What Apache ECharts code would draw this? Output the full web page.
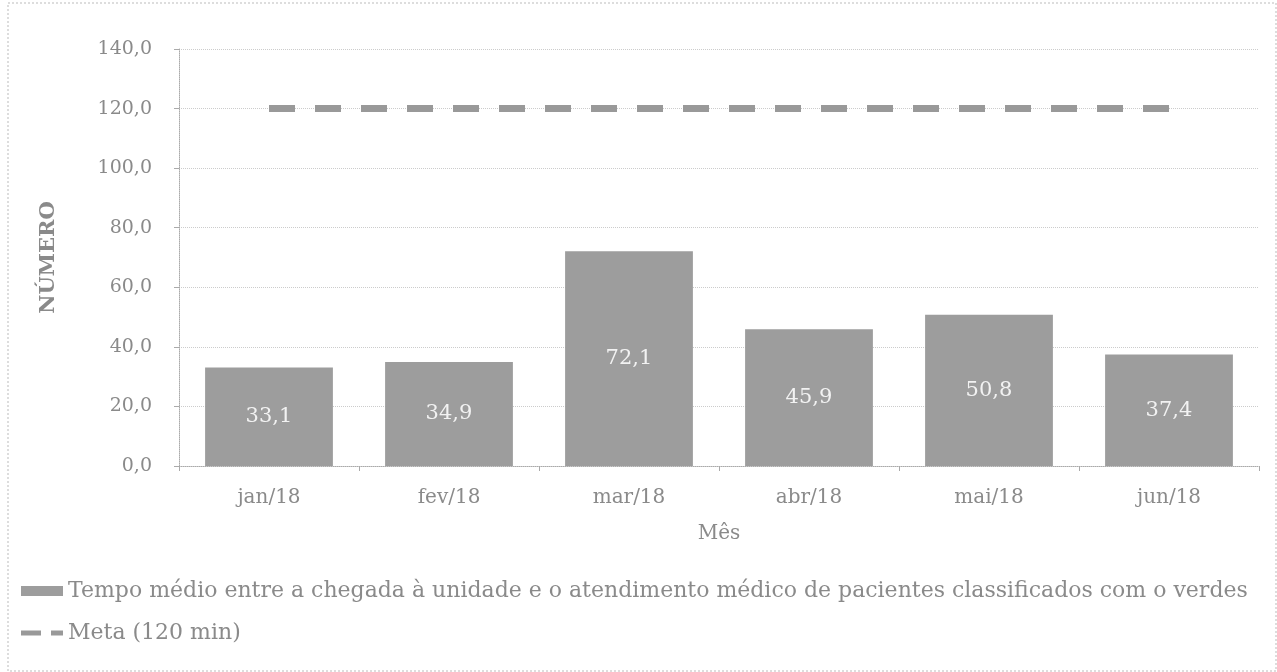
<!DOCTYPE html>
<html><head><meta charset="utf-8">
<script src="https://cdn.jsdelivr.net/npm/echarts@6/dist/echarts.min.js"></script>
<style>html,body{margin:0;padding:0;background:#fff}#c{width:1277px;height:672px}</style>
</head><body><div id="c"></div>
<script>
const categories = ['jan/18','fev/18','mar/18','abr/18','mai/18','jun/18'];
const tempoMedio = [33.1, 34.9, 72.1, 45.9, 50.8, 37.4];
const meta = [120, 120, 120, 120, 120, 120];
const barName = 'Tempo médio entre a chegada à unidade e o atendimento médico de pacientes classificados com o verdes';
const metaName = 'Meta (120 min)';
const fmt = v => v.toFixed(1).replace('.', ',');
const txt = '#8a8a8a';
const ff = '"DejaVu Serif", "Liberation Serif", serif';
const chart = echarts.init(document.getElementById('c'));
chart.setOption({
  backgroundColor: '#fff',
  animation: false,
  graphic: [{type:'rect', shape:{x:8, y:3, width:1268, height:668}, style:{fill:'none', stroke:'#bbb', lineWidth:1, lineDash:[2,2]}}],
  grid: {left:179, right:18, top:49, bottom:206},
  legend: {
    orient:'vertical', left:16, top:575, itemGap:20, itemWidth:42, itemHeight:10,
    textStyle:{color:txt, fontFamily:ff, fontSize:22},
    data:[
      {name:barName, icon:'rect'},
      {name:metaName, icon:'path://M0,0h20v5h-20z M30,0h12v5h-12z'}
    ]
  },
  xAxis: {
    type:'category', data:categories, name:'Mês', nameLocation:'middle', nameGap:58,
    nameTextStyle:{color:txt, fontFamily:ff, fontSize:20},
    axisLine:{lineStyle:{color:'#aaa', type:'dotted'}},
    axisTick:{show:true, lineStyle:{color:'#aaa'}},
    axisLabel:{color:txt, fontFamily:ff, fontSize:20, margin:22}
  },
  yAxis: {
    type:'value', min:0, max:140, interval:20, name:'NÚMERO', nameLocation:'middle', nameGap:120,
    nameTextStyle:{color:txt, fontFamily:ff, fontSize:21, fontWeight:'bold'},
    axisLine:{show:true, lineStyle:{color:'#aaa', type:'dotted'}},
    axisTick:{show:true, lineStyle:{color:'#aaa'}},
    axisLabel:{color:txt, fontFamily:ff, fontSize:19, margin:27, formatter:fmt},
    splitLine:{lineStyle:{color:'#ccc', type:'dotted'}}
  },
  series: [
    {name:barName, type:'bar', data:tempoMedio, barCategoryGap:'29%',
     itemStyle:{color:'#9d9d9d'},
     label:{show:true, position:'inside', color:'#f2f2f2', fontFamily:ff, fontSize:21, formatter:p=>fmt(p.value)}},
    {name:metaName, type:'line', data:meta, symbol:'none',
     lineStyle:{color:'#999', width:7, type:[26,20]}, itemStyle:{color:'#999'}}
  ]
});
</script></body></html>
